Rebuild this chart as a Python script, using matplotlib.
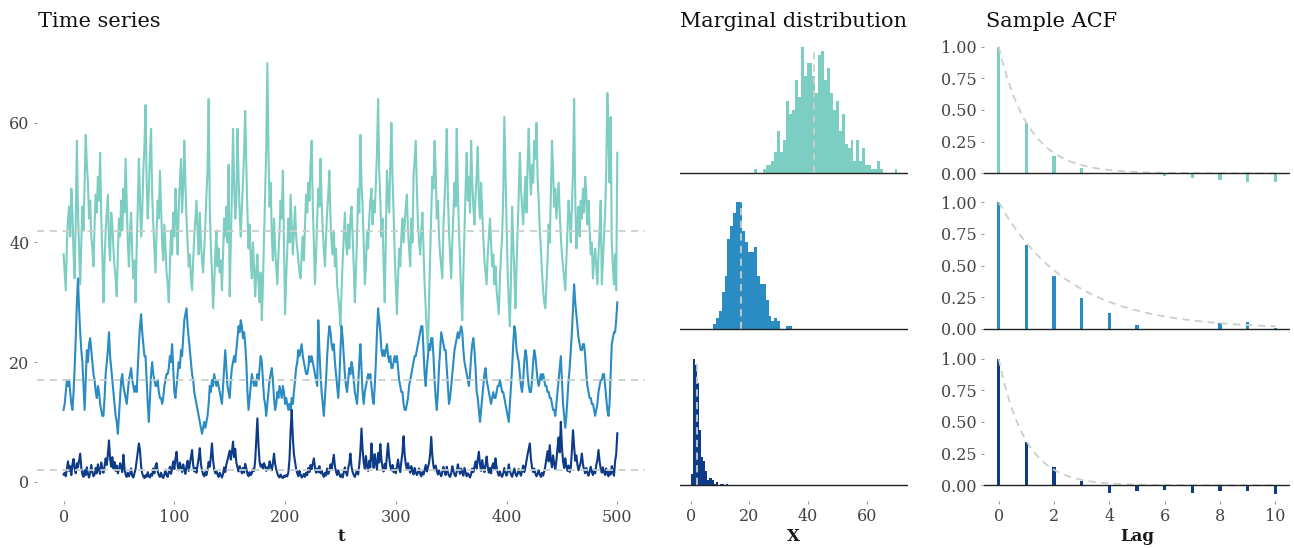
import numpy as np
import matplotlib
matplotlib.use('Agg')
import matplotlib.pyplot as plt

plt.rcParams['font.family'] = ['DejaVu Serif']

# three simulated series (t = 0..500)
ts_a = [
    38, 35, 32, 40, 44, 46, 41, 49, 45, 38, 34, 44, 57, 45, 39, 33, 40, 46, 42, 50,
    58, 53, 50, 44, 47, 41, 39, 36, 43, 48, 45, 51, 47, 55, 44, 38, 30, 37, 42, 45,
    48, 40, 37, 45, 43, 39, 36, 34, 31, 38, 44, 41, 47, 42, 49, 45, 54, 47, 40, 36,
    42, 45, 38, 34, 37, 30, 39, 46, 54, 47, 41, 45, 52, 56, 63, 50, 44, 49, 55, 59,
    48, 43, 39, 35, 42, 47, 44, 52, 46, 40, 37, 43, 39, 35, 33, 30, 36, 42, 38, 45,
    41, 49, 44, 38, 46, 50, 54, 45, 49, 57, 50, 44, 40, 36, 38, 34, 32, 37, 41, 44,
    47, 42, 38, 45, 40, 37, 35, 39, 43, 48, 52, 64, 46, 39, 35, 29, 33, 38, 42, 36,
    39, 35, 37, 32, 38, 44, 41, 46, 40, 53, 31, 40, 48, 59, 50, 44, 47, 59, 51, 45,
    41, 46, 50, 55, 62, 53, 45, 39, 43, 37, 34, 40, 36, 31, 35, 38, 33, 30, 35, 27,
    33, 41, 48, 56, 70, 55, 46, 50, 41, 37, 44, 39, 36, 33, 38, 42, 47, 44, 52, 40,
    28, 34, 39, 44, 40, 48, 43, 38, 42, 46, 41, 39, 37, 35, 34, 38, 41, 37, 43, 48,
    45, 50, 47, 53, 57, 46, 40, 33, 38, 44, 49, 46, 54, 47, 42, 39, 36, 41, 45, 48,
    52, 44, 40, 38, 42, 36, 39, 33, 31, 29, 26, 32, 37, 41, 45, 40, 38, 43, 39, 44,
    46, 41, 36, 30, 35, 41, 49, 45, 58, 50, 46, 40, 33, 36, 42, 39, 44, 47, 49, 43,
    47, 45, 50, 55, 64, 52, 47, 41, 44, 36, 30, 41, 52, 48, 45, 53, 60, 51, 45, 38,
    33, 28, 34, 39, 36, 41, 44, 40, 43, 46, 48, 42, 39, 36, 44, 40, 51, 54, 57, 49,
    43, 40, 38, 42, 45, 39, 33, 29, 25, 22, 30, 38, 45, 51, 49, 57, 52, 44, 47, 41,
    38, 36, 34, 43, 47, 52, 59, 48, 42, 38, 34, 40, 45, 50, 46, 59, 49, 42, 37, 31,
    27, 35, 42, 49, 55, 47, 51, 45, 57, 50, 46, 43, 48, 51, 56, 47, 44, 50, 45, 41,
    37, 35, 33, 38, 41, 44, 40, 36, 38, 33, 36, 32, 30, 28, 34, 38, 41, 48, 61, 52,
    43, 35, 30, 26, 34, 46, 40, 35, 29, 36, 42, 48, 55, 49, 46, 43, 47, 51, 45, 53,
    59, 52, 48, 53, 50, 57, 54, 60, 51, 47, 42, 39, 35, 32, 30, 29, 33, 37, 43, 40,
    48, 57, 52, 46, 49, 44, 47, 50, 45, 41, 38, 36, 34, 32, 37, 42, 47, 44, 40, 46,
    52, 64, 48, 39, 43, 46, 41, 47, 44, 49, 45, 51, 48, 43, 47, 42, 38, 40, 34, 37,
    39, 36, 33, 38, 42, 47, 33, 37, 41, 45, 52, 65, 58, 50, 61, 40, 36, 33, 38, 32,
    55,
]
ts_b = [
    12, 13, 15, 17, 16, 17, 15, 13, 12, 15, 19, 24, 30, 34, 29, 25, 22, 20, 16, 12,
    17, 22, 20, 23, 24, 22, 20, 18, 17, 15, 14, 16, 15, 13, 12, 11, 11, 14, 18, 20,
    22, 25, 21, 19, 17, 15, 13, 11, 10, 8, 11, 14, 17, 18, 16, 15, 14, 13, 15, 17,
    18, 19, 17, 16, 15, 16, 15, 19, 23, 26, 28, 25, 23, 21, 21, 17, 13, 10, 14, 18,
    20, 18, 17, 16, 16, 17, 15, 14, 14, 13, 14, 16, 17, 18, 18, 19, 21, 20, 23, 19,
    15, 14, 16, 18, 20, 19, 22, 21, 24, 27, 28, 29, 26, 24, 22, 20, 18, 17, 15, 14,
    13, 12, 11, 10, 9, 8, 9, 10, 9, 10, 11, 13, 16, 15, 17, 16, 18, 17, 16, 17,
    16, 15, 14, 13, 16, 19, 22, 19, 16, 15, 14, 17, 19, 20, 21, 20, 22, 24, 26, 25,
    27, 26, 24, 25, 23, 20, 15, 12, 14, 16, 18, 17, 16, 17, 16, 18, 17, 19, 21, 20,
    17, 14, 13, 11, 13, 15, 17, 18, 19, 17, 14, 12, 13, 15, 14, 16, 15, 14, 16, 15,
    13, 14, 13, 12, 13, 12, 14, 13, 15, 17, 19, 20, 22, 21, 22, 23, 21, 20, 19, 18,
    18, 19, 21, 20, 21, 20, 19, 18, 17, 16, 27, 22, 18, 15, 13, 11, 14, 17, 21, 24,
    26, 25, 23, 22, 23, 20, 18, 16, 14, 17, 22, 26, 24, 21, 18, 16, 15, 17, 19, 18,
    20, 19, 17, 15, 14, 13, 16, 20, 23, 19, 15, 13, 15, 16, 17, 18, 17, 18, 16, 14,
    13, 16, 20, 25, 29, 27, 25, 22, 21, 22, 21, 22, 23, 21, 20, 21, 19, 19, 20, 21,
    20, 21, 19, 17, 16, 15, 15, 13, 12, 12, 13, 14, 16, 17, 18, 19, 20, 21, 21, 22,
    23, 24, 25, 26, 26, 22, 18, 16, 19, 21, 23, 22, 24, 24, 21, 17, 14, 12, 15, 19,
    22, 25, 24, 23, 22, 22, 19, 16, 13, 14, 16, 18, 20, 22, 23, 24, 25, 24, 25, 26,
    25, 22, 20, 19, 18, 17, 16, 18, 21, 23, 24, 22, 19, 15, 14, 12, 10, 12, 14, 16,
    18, 19, 17, 16, 15, 14, 13, 14, 15, 14, 14, 15, 16, 16, 17, 16, 15, 15, 14, 13,
    12, 11, 10, 13, 16, 19, 23, 26, 25, 22, 21, 20, 18, 16, 15, 17, 20, 22, 21, 18,
    16, 15, 15, 17, 20, 22, 21, 19, 17, 16, 17, 18, 17, 18, 17, 16, 16, 15, 15, 14,
    14, 13, 12, 12, 11, 13, 15, 17, 19, 21, 17, 13, 11, 9, 11, 14, 17, 19, 22, 25,
    29, 33, 30, 28, 26, 24, 23, 22, 22, 23, 23, 21, 18, 16, 15, 14, 14, 13, 13, 12,
    11, 12, 13, 15, 16, 17, 17, 18, 18, 16, 14, 12, 11, 13, 18, 23, 24, 25, 25, 27,
    30,
]
ts_c = [
    1.2, 1.5, 0.9, 2.1, 3.4, 1.8, 2.6, 1.1, 2.9, 3.8, 2.2, 1.4, 3.1, 2.4, 3.6, 4.7, 2.3, 1.2, 0.8, 1.9,
    1.1, 2.4, 1.3, 0.7, 1.5, 2.8, 1.6, 0.9, 1.2, 2.3, 1.4, 2.9, 2.0, 1.3, 3.2, 2.1, 1.5, 2.6, 3.9, 2.8,
    4.6, 6.9, 3.8, 2.5, 4.1, 2.2, 3.3, 1.8, 2.7, 1.4, 2.0, 3.1, 2.4, 1.6, 4.5, 2.3, 1.2, 0.8, 1.5, 0.9,
    1.3, 2.2, 1.0, 0.7, 1.4, 2.1, 3.5, 4.8, 6.4, 5.2, 2.6, 1.4, 0.9, 0.6, 1.1, 0.8, 1.6, 0.9, 0.7, 1.3,
    1.0, 2.2, 1.4, 2.6, 3.1, 1.7, 1.1, 0.8, 1.5, 0.9, 0.6, 1.2, 2.0, 1.1, 0.8, 1.6, 2.5, 1.3, 2.2, 3.4,
    2.1, 3.8, 5.0, 2.7, 1.9, 3.2, 2.4, 1.6, 2.9, 2.0, 1.3, 2.6, 3.5, 1.8, 2.9, 4.1, 5.3, 2.8, 1.7, 2.3,
    1.5, 2.8, 3.9, 5.6, 3.0, 1.9, 1.2, 0.9, 1.6, 1.1, 2.0, 3.3, 2.5, 4.2, 6.4, 3.6, 2.1, 1.4, 1.8, 1.2,
    0.8, 1.5, 1.1, 0.7, 1.3, 2.4, 1.6, 2.9, 3.6, 4.4, 5.2, 3.7, 4.9, 6.7, 4.1, 5.5, 3.2, 2.4, 1.7, 2.6,
    2.0, 1.4, 2.3, 1.5, 3.0, 2.2, 1.3, 0.9, 1.6, 1.1, 1.4, 2.1, 1.8, 3.5, 7.2, 10.6, 6.1, 3.3, 2.5, 2.9,
    2.2, 3.1, 2.6, 1.8, 2.4, 2.0, 3.4, 2.7, 1.9, 3.1, 4.7, 3.0, 2.1, 1.4, 0.9, 0.7, 1.2, 0.8, 0.6, 1.0,
    0.8, 1.1, 0.9, 1.6, 3.8, 8.5, 12.0, 7.4, 4.6, 3.3, 2.1, 1.4, 0.9, 1.8, 1.2, 0.7, 0.9, 1.3, 0.8, 1.5,
    1.1, 2.3, 1.6, 2.8, 2.1, 3.0, 3.9, 2.4, 1.5, 2.2, 1.6, 2.6, 1.4, 1.9, 1.2, 0.8, 1.5, 1.0, 2.2, 1.3,
    1.8, 2.9, 2.1, 3.3, 4.5, 2.6, 1.7, 1.1, 1.9, 1.3, 0.8, 1.2, 0.7, 1.6, 2.4, 1.5, 1.0, 2.3, 3.1, 4.7,
    2.5, 1.6, 1.1, 0.8, 1.4, 1.9, 1.2, 2.8, 5.1, 8.9, 5.4, 3.2, 2.2, 4.3, 2.6, 1.8, 3.5, 2.4, 6.4, 3.9,
    2.3, 4.6, 3.1, 2.0, 4.8, 3.2, 6.3, 3.7, 2.4, 1.7, 3.0, 2.2, 4.5, 6.4, 4.0, 2.6, 1.9, 2.8, 1.6, 2.1,
    1.4, 2.5, 3.7, 2.3, 1.6, 3.4, 4.9, 7.6, 4.5, 2.9, 2.0, 3.1, 2.2, 1.5, 2.6, 1.8, 1.2, 2.3, 1.6, 1.1,
    1.5, 2.2, 1.3, 0.9, 1.6, 1.2, 2.0, 2.8, 1.7, 2.4, 3.2, 4.6, 7.5, 4.3, 2.6, 1.9, 2.7, 1.8, 1.2, 1.9,
    1.3, 0.9, 1.6, 2.5, 1.7, 1.1, 2.5, 1.6, 1.0, 0.8, 1.4, 2.6, 1.8, 1.2, 0.9, 1.7, 2.9, 2.0, 1.3, 2.2,
    1.5, 1.0, 2.3, 1.6, 0.9, 1.4, 1.1, 0.7, 1.3, 2.2, 1.6, 2.5, 3.4, 2.2, 3.8, 5.0, 2.9, 1.8, 3.6, 2.4,
    1.6, 2.8, 4.2, 2.5, 1.5, 2.3, 1.4, 2.6, 3.1, 2.0, 3.9, 2.4, 1.5, 1.0, 1.7, 1.1, 0.8, 1.4, 2.3, 1.5,
    1.0, 1.6, 2.9, 1.8, 1.2, 0.8, 1.5, 2.2, 1.4, 0.9, 1.3, 2.1, 1.5, 1.0, 1.8, 2.7, 1.6, 2.4, 3.5, 4.6,
    5.5, 6.4, 3.8, 2.4, 1.6, 2.2, 1.4, 0.9, 1.3, 1.9, 1.2, 0.8, 1.5, 1.0, 1.7, 2.6, 3.8, 5.1, 3.4, 6.1,
    3.6, 2.4, 4.4, 3.0, 2.1, 3.5, 5.6, 7.4, 4.9, 10.0, 5.8, 3.4, 2.3, 3.9, 2.6, 1.8, 2.7, 1.6, 2.4, 5.2,
    8.6, 5.9, 3.5, 4.4, 2.8, 1.9, 2.6, 3.3, 4.7, 2.9, 2.0, 1.4, 2.3, 1.5, 1.0, 1.7, 2.5, 1.6, 1.1, 2.0,
    1.4, 2.8, 3.6, 5.3, 3.4, 2.2, 1.5, 2.4, 1.6, 1.1, 2.2, 1.4, 0.9, 1.8, 1.2, 2.6, 1.7, 1.0, 3.4, 4.6,
    8.1,
]

means = [42, 17, 2]
acf_decay = [0.40, 0.68, 0.35]
lags = list(range(11))
acf_a = [1.0, 0.395, 0.14, 0.042, 0.003, -0.008, -0.02, -0.04, -0.055, -0.066, -0.068]
acf_b = [1.0, 0.66, 0.416, 0.245, 0.126, 0.029, -0.01, 0.002, 0.047, 0.053, 0.004]
acf_c = [1.0, 0.342, 0.145, 0.034, -0.058, -0.045, -0.034, -0.058, -0.042, -0.045, -0.066]

colors = ['#7ccdc2', '#2b8cc4', '#0d3b87']
dash_col = '#c9d0c9'
W, H = 1294, 548


def box(left, top, right, bottom):
    return [left / W, 1 - bottom / H, (right - left) / W, (bottom - top) / H]


def style(ax):
    for s in ax.spines.values():
        s.set_visible(False)
    ax.tick_params(colors='#999999', labelcolor='#444444', length=2.5,
                   width=0.8, labelsize=11.5, pad=3)


fig = plt.figure(figsize=(W / 100, H / 100), dpi=100)
series = [ts_a, ts_b, ts_c]
acfs = [acf_a, acf_b, acf_c]

# time series panel
ax = fig.add_axes(box(37, 39, 645, 501))
for vals, col in zip(series, colors):
    ax.plot(np.arange(len(vals)), vals, color=col, lw=1.5)
for m in means:
    ax.axhline(m, color=dash_col, ls=(0, (4, 3)), lw=1.3, zorder=3)
ax.set_xlim(-24, 525)
ax.set_ylim(-3.23, 74.03)
ax.set_xticks(range(0, 501, 100))
ax.set_yticks([0, 20, 40, 60])
style(ax)

zeros = [173.3, 329.0, 485.3]
bins = [np.arange(-0.5, 75, 1), np.arange(-0.5, 75, 1), np.arange(0.05, 14, 0.7)]
for i in range(3):
    top, bottom = zeros[i] - 133.7, zeros[i] + 15.2

    # marginal histogram
    ax = fig.add_axes(box(680, top, 907.7, bottom))
    counts, _, _ = ax.hist(series[i], bins=bins[i], color=colors[i])
    hmax = counts.max()
    ax.vlines(means[i], 0, hmax, colors=dash_col, linestyles=(0, (4, 3)),
              lw=1.3, zorder=3)
    ax.axhline(0, color='#222222', lw=1.0, zorder=4)
    ax.set_xlim(-3.7, 74.0)
    ax.set_ylim(-0.12 * hmax, 1.055 * hmax)
    ax.set_yticks([])
    ax.set_xticks([0, 20, 40, 60] if i == 2 else [])
    style(ax)

    # sample acf
    ax = fig.add_axes(box(984, top, 1290, bottom))
    ax.bar(lags, acfs[i], width=0.13, color=colors[i])
    fine = np.linspace(0, 10, 200)
    ax.plot(fine, acf_decay[i] ** fine, color=dash_col, ls=(0, (4, 3)),
            lw=1.3, zorder=3)
    ax.axhline(0, color='#222222', lw=1.0, zorder=4)
    ax.set_xlim(-0.53, 10.53)
    ax.set_ylim(-0.12, 1.055)
    ax.set_yticks([0, 0.25, 0.5, 0.75, 1.0])
    ax.set_yticklabels(['0.00', '0.25', '0.50', '0.75', '1.00'])
    ax.set_xticks(range(0, 11, 2) if i == 2 else [])
    style(ax)

ty = 1 - 26.7 / H
fig.text(38 / W, ty, 'Time series', fontsize=15, color='#111111', va='baseline')
fig.text(680.5 / W, ty, 'Marginal distribution', fontsize=15, color='#111111',
         va='baseline')
fig.text(986.5 / W, ty, 'Sample ACF', fontsize=15, color='#111111', va='baseline')

ly = 1 - 541 / H
for x, lab in [(341, 't'), (793.8, 'X'), (1137, 'Lag')]:
    fig.text(x / W, ly, lab, fontsize=12, fontweight='bold', color='#1a1a1a',
             ha='center', va='baseline')

fig.savefig('out.png', dpi=100)
